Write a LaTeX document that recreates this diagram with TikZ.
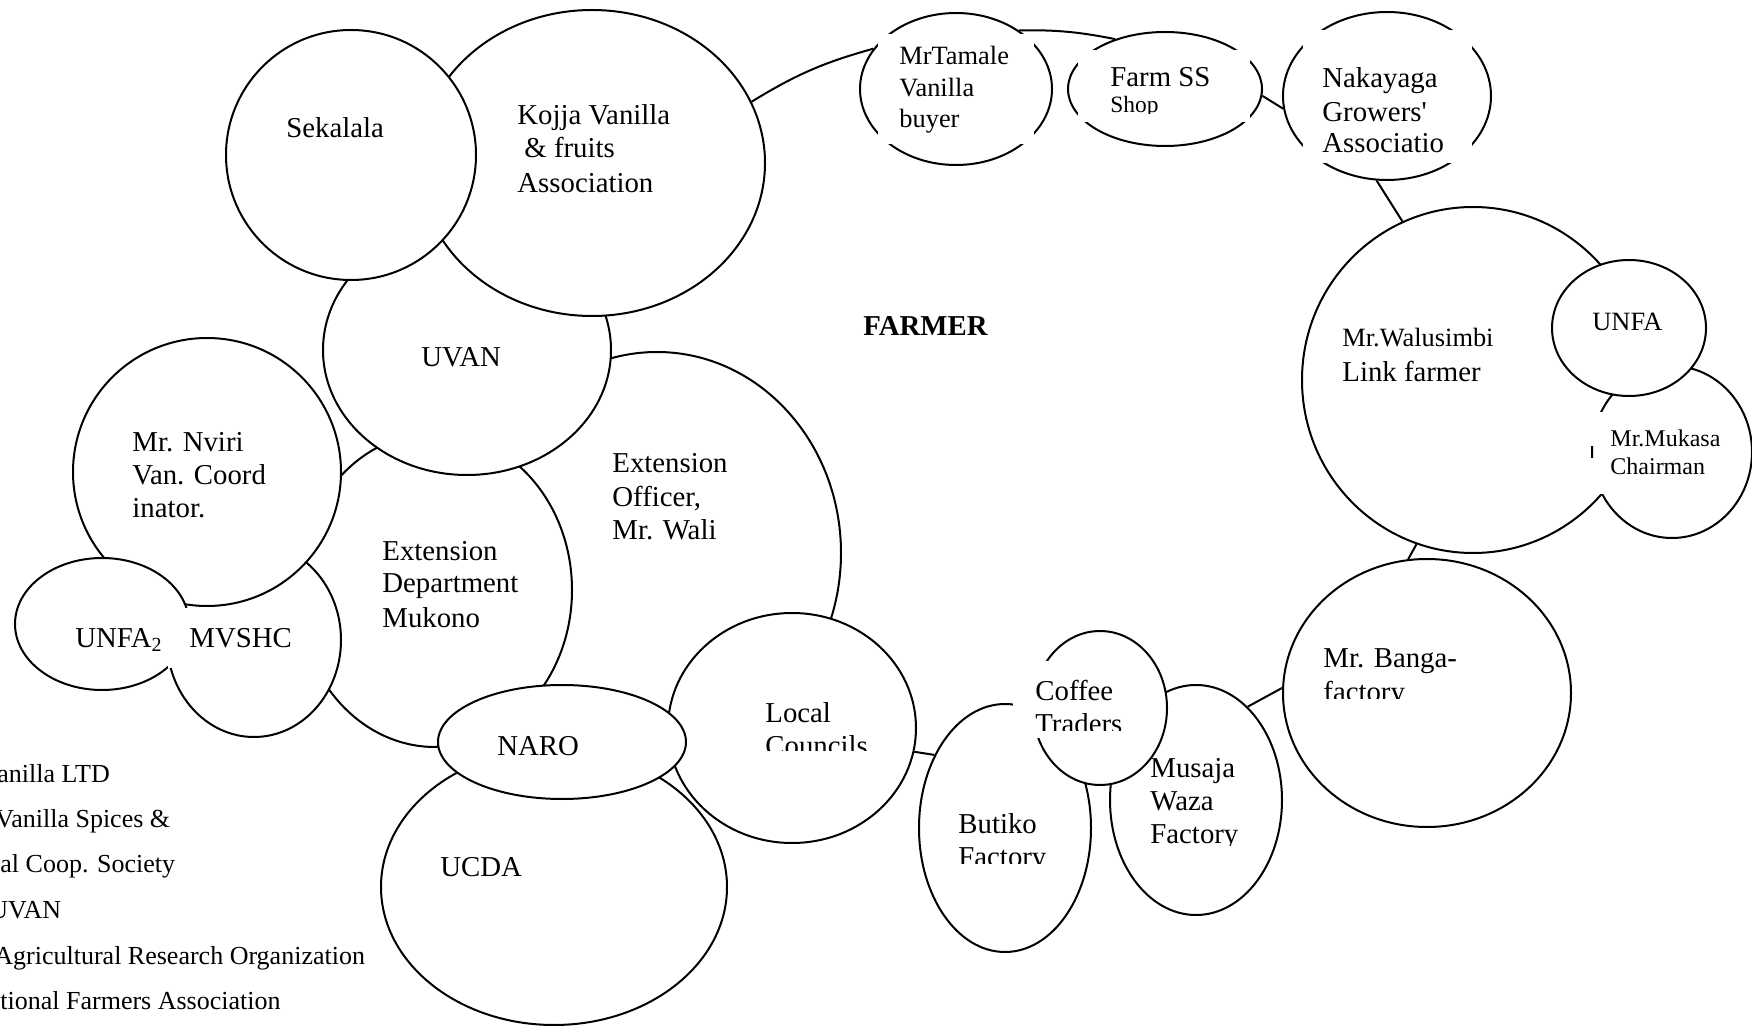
\documentclass[tikz,border=0pt]{standalone}
\usepackage{fontspec}
\setmainfont{Liberation Serif}
\usetikzlibrary{shapes.geometric}
\pgfdeclarelayer{bg}
\pgfsetlayers{bg,main}
\newcommand\fA{\fontsize{14.4}{17}\selectfont}
\newcommand\fB{\fontsize{13.2}{16}\selectfont}
\newcommand\fC{\fontsize{12}{14}\selectfont}
\newcommand\fS{\fontsize{11.7}{14}\selectfont}
\newcommand\fL{\fontsize{13}{16}\selectfont}
\begin{document}
\begin{tikzpicture}[x=0.5pt,y=-0.5pt,
  bub/.style 2 args={ellipse,draw,fill=white,line width=1pt,inner sep=0pt,minimum width=#1pt,minimum height=#2pt},
  lab/.style={anchor=base west,inner sep=0pt,font=\fA},
  labB/.style={lab,font=\fB},
  labC/.style={lab,font=\fC},
  leg/.style={lab,font=\fL},
  con/.style={line width=1pt},
  tbox/.style={fill=white}]
\useasboundingbox (0,0) rectangle (1752,1026);
\begin{pgfonlayer}{bg}
\fill[white] (0,0) rectangle (1752,1026);
\end{pgfonlayer}
\clip (0,0) rectangle (1752,1026);
% bubbles, bottom to top
\node[bub={184}{201}] (eo) at (657,553) {};
\node[bub={137}{157}] (ed) at (435,590) {};
\node[bub={144}{125}] (uvan) at (467,350) {};
\node[bub={173}{153}] (kojja) at (592,163) {};
\node[bub={125}{125}] (sek) at (351,155) {};
\node[bub={87}{97}] (mvshc) at (254,640) {};
\node[bub={134}{134}] (nviri) at (207,472) {};
\node[bub={87}{66}] (unfa2) at (102,624) {};
\node[bub={173}{138}] (ucda) at (554,887) {};
\node[bub={124}{115}] (lc) at (792,728) {};
\node[bub={124}{57}] (naro) at (562,742) {};
\node[bub={86}{124}] (butiko) at (1005,828) {};
\node[bub={86}{115}] (musaja) at (1196,800) {};
\node[bub={67}{77}] (coffee) at (1100,708) {};
\node[bub={171}{173}] (walu) at (1473,380) {};
\node[bub={80}{86}] (mukasa) at (1672,452) {};
\node[bub={77}{68}] (unfa) at (1629,328) {};
\node[bub={144}{134}] (banga) at (1427,693) {};
\node[bub={96}{76}] (tamale) at (956,89) {};
\node[bub={97}{57}] (farm) at (1165,89) {};
\node[bub={104}{84}] (naka) at (1387,96) {};
% white text boxes that hide parts of outlines
\fill[tbox] (878,34) rectangle (1034,144);
\fill[tbox] (1078,50) rectangle (1250,122);
\fill[tbox] (1303,30) rectangle (1472,163);
\fill[tbox] (1013,661) rectangle (1145,738);
\fill[tbox] (1589,412) rectangle (1735,446);
\fill[tbox] (1589,458) rectangle (1735,494);
\fill[tbox] (1595,444) rectangle (1735,460);
\fill[tbox] (168,608) rectangle (320,668);
% labels
\node[lab] (tsek) at (286,138) {Sekalala};
\node[lab] (tkoj1) at (517,125) {Kojja Vanilla};
\node[lab] (tkoj2) at (524,158) {\& fruits};
\node[lab] (tkoj3) at (517,193) {Association};
\node[lab] (tuvan) at (421,367) {UVAN};
\node[lab] (teo1) at (612,473) {Extension};
\node[lab] (teo2) at (612,507) {Officer,};
\node[lab] (teo3) at (612,540) {Mr. Wali};
\node[lab] (ted1) at (382,560) {Extension};
\node[lab] (ted2) at (382,593) {Department};
\node[lab] (ted3) at (382,627) {Mukono};
\node[lab] (tnv1) at (132,452) {Mr. Nviri};
\node[lab] (tnv2) at (132,485) {Van. Coord};
\node[lab] (tnv3) at (132,518) {inator.};
\node[lab] (tunfa2) at (75,647) {UNFA\textsubscript{2}};
\node[lab] (tmvshc) at (189,647) {MVSHC};
\node[lab] (tnaro) at (497,755) {NARO};
\node[lab] (tucda) at (440,876) {UCDA};
\node[lab] (tlc1) at (765,722) {Local};
\begin{scope}
\clip (760,728) rectangle (900,750);
\node[lab] (tlc2) at (765,755) {Councils};
\end{scope}
\node[lab] (tbut1) at (958,833) {Butiko};
\begin{scope}
\clip (950,840) rectangle (1080,863);
\node[lab] (tbut2) at (958,866) {Factory};
\end{scope}
\node[lab] (tcof1) at (1035,700) {Coffee};
\begin{scope}
\clip (1030,708) rectangle (1145,730);
\node[lab] (tcof2) at (1035,733) {Traders};
\end{scope}
\node[lab] (tmus1) at (1150,777) {Musaja};
\node[lab] (tmus2) at (1150,810) {Waza};
\begin{scope}
\clip (1145,815) rectangle (1260,845);
\node[lab] (tmus3) at (1150,843) {Factory};
\end{scope}
\node[lab] (tban1) at (1323,668) {Mr. Banga-};
\begin{scope}
\clip (1318,676) rectangle (1450,698);
\node[lab] (tban2) at (1323,701) {factory};
\end{scope}
\node[labB] (twal1) at (1342,347) {Mr.Walusimbi};
\node[lab] (twal2) at (1342,382) {Link farmer};
\node[labB] (tunfa) at (1592,331) {UNFA};
\node[labC] (tmuk1) at (1610,447) {Mr.Mukasa};
\node[labC] (tmuk2) at (1610,475) {Chairman};
\node[labB] (ttam1) at (899,65) {MrTamale};
\node[labB] (ttam2) at (899,97) {Vanilla};
\node[labB] (ttam3) at (899,128) {buyer};
\node[lab] (tfarm1) at (1110,87) {Farm SS};
\begin{scope}
\clip (1105,92) rectangle (1200,114);
\node[lab,font=\fS] (tfarm2) at (1110,113) {Shop};
\end{scope}
\node[lab] (tnak1) at (1322,88) {Nakayaga};
\node[lab] (tnak2) at (1322,122) {Growers\textquotesingle};
\node[lab] (tnak3) at (1322,153) {Associatio};
\node[lab,font=\fA\bfseries] (tfarmer) at (863,336) {FARMER};
% legend (cut at the left edge)
\node[leg] (lg1) at (-3,782) {anilla LTD};
\node[leg] (lg2) at (-5,827) {Vanilla Spices \&};
\node[leg] (lg3) at (0,872) {al Coop. Society};
\node[leg] (lg4) at (-11,918) {UVAN};
\node[leg] (lg5) at (-6,964) {Agricultural Research Organization};
\node[leg] (lg6) at (0,1009) {tional Farmers Association};
% connectors
\begin{pgfonlayer}{bg}
\draw[con] (kojja.21) to[bend left=8] (tamale.154);
\draw[con] (tamale.43) to[bend left=6] (farm.135);
\draw[con] (farm.356) -- (naka.187);
\draw[con] (naka.263) -- (walu.114);
\draw[con] (walu.251) -- (banga.98);
\draw[con] (musaja.61) -- (banga.178);
\draw[con] (lc.349) -- (butiko.134);
\end{pgfonlayer}
\end{tikzpicture}
\end{document}
